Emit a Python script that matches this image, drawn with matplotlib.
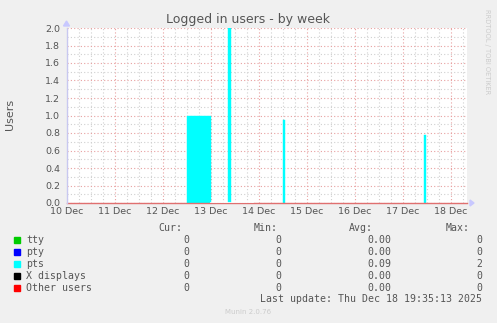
import matplotlib
matplotlib.use("Agg")
import matplotlib.pyplot as plt
from matplotlib.patches import Polygon

# ---- data (x in days since 10 Dec 00:00) ----
day_labels = ["10 Dec", "11 Dec", "12 Dec", "13 Dec", "14 Dec", "15 Dec", "16 Dec", "17 Dec", "18 Dec"]
x_span_days = 8.333
pts_start = [2.49, 3.354, 4.495, 7.445]
pts_end = [2.99, 3.41, 4.535, 7.485]
pts_value = [1.0, 2.0, 0.95, 0.78]
unknown_start = [3.0]
unknown_end = [3.875]
y_ticks = [0.0, 0.2, 0.4, 0.6, 0.8, 1.0, 1.2, 1.4, 1.6, 1.8, 2.0]

legend_names = ["tty", "pty", "pts", "X displays", "Other users"]
legend_colors = ["#00CC00", "#0000FF", "#00FFFF", "#000000", "#FF0000"]
cur_vals = ["0", "0", "0", "0", "0"]
min_vals = ["0", "0", "0", "0", "0"]
avg_vals = ["0.00", "0.00", "0.09", "0.00", "0.00"]
max_vals = ["0", "0", "2", "0", "0"]

W, H = 497, 323
fig = plt.figure(figsize=(W / 100, H / 100), dpi=100, facecolor="#F0F0F0")

L, R, T, B = 67, 467, 28, 203
ax = fig.add_axes([L / W, 1 - B / H, (R - L) / W, (B - T) / H])
ax.set_facecolor("white")
ax.set_xlim(0, x_span_days)
ax.set_ylim(0, 2.0)

# grid
minor_col = "#D0D0D0"
major_col = "#E8A0A0"
for i in range(int(x_span_days * 4) + 1):
    xv = i * 0.25
    ax.axvline(xv, color=major_col if i % 4 == 0 else minor_col, lw=0.8, ls=(0, (1, 2)), zorder=1)
for j in range(21):
    yv = j * 0.1
    ax.axhline(yv, color=major_col if j % 2 == 0 else minor_col, lw=0.8, ls=(0, (1, 2)), zorder=1)

# data
for s, e, v in zip(pts_start, pts_end, pts_value):
    ax.bar(s, v, width=e - s, align="edge", color="#00FFFF", edgecolor="#00FFFF", lw=0.3, zorder=3)

for sp in ax.spines.values():
    sp.set_visible(False)

ax.set_xticks(range(len(day_labels)))
ax.set_xticklabels(day_labels)
ax.set_yticks(y_ticks)
ax.set_yticklabels([f"{v:.1f}" for v in y_ticks])
ax.tick_params(axis="both", length=0, labelsize=6.8, colors="#555555", pad=5)
ax.tick_params(axis="x", pad=3)

# axes lines
ax.plot([0, x_span_days], [0, 0], color="#E07070", lw=1.0, zorder=4, clip_on=False)
for s, e in zip(unknown_start, unknown_end):
    ax.plot([s, e], [0, 0], color="white", lw=1.2, zorder=5)
    ax.plot([s, e], [0, 0], color="#C8C8E8", lw=0.8, ls=(0, (1, 1.5)), zorder=6)
ax.plot([0, 0], [0, 2.0], color="#C8C8F0", lw=1.0, zorder=4, clip_on=False)
# arrows
fig.patches.append(Polygon([[(R + 3) / W, 1 - (B - 3) / H], [(R + 3) / W, 1 - (B + 3) / H], [(R + 7) / W, 1 - B / H]],
                           closed=True, transform=fig.transFigure, color="#C8C8FF"))
fig.patches.append(Polygon([[(L - 3 - 0.5) / W, 1 - (T - 2) / H], [(L + 3 - 0.5) / W, 1 - (T - 2) / H], [(L - 0.5) / W, 1 - (T - 7) / H]],
                           closed=True, transform=fig.transFigure, color="#C8C8FF"))

txt = "#555555"
fig.text(248 / W, 1 - 19 / H, "Logged in users - by week", ha="center", va="center", fontsize=9, color=txt)
fig.text(10 / W, 1 - 114 / H, "Users", rotation=90, ha="center", va="center", fontsize=8, color=txt)
fig.text(487 / W, 1 - 52 / H, "RRDTOOL / TOBI OETIKER", rotation=270, ha="center", va="center",
         fontsize=4.8, color="#CCCCCC")

mono = "DejaVu Sans Mono"
fs = 7.1
hy = 228
for lab, xr in zip(["Cur:", "Min:", "Avg:", "Max:"], [182, 278, 373, 470]):
    fig.text(xr / W, 1 - hy / H, lab, ha="right", va="center", family=mono, fontsize=fs, color=txt)
row_y = [240, 252, 264, 276, 288]
for i in range(len(legend_names)):
    y = row_y[i]
    fig.patches.append(plt.Rectangle((14 / W, 1 - (y + 3) / H), 6 / W, 6 / H, transform=fig.transFigure,
                                     color=legend_colors[i]))
    fig.text(26 / W, 1 - y / H, legend_names[i], ha="left", va="center", family=mono, fontsize=fs, color=txt)
    for val, xr in zip([cur_vals[i], min_vals[i], avg_vals[i], max_vals[i]], [189.5, 281, 391, 482.5]):
        fig.text(xr / W, 1 - y / H, val, ha="right", va="center", family=mono, fontsize=fs, color=txt)
fig.text(482.5 / W, 1 - 299 / H, "Last update: Thu Dec 18 19:35:13 2025", ha="right", va="center",
         family=mono, fontsize=fs, color=txt)
fig.text(248 / W, 1 - 312 / H, "Munin 2.0.76", ha="center", va="center", fontsize=5, color="#CCCCCC")

fig.savefig("out.png", dpi=100, facecolor=fig.get_facecolor())
